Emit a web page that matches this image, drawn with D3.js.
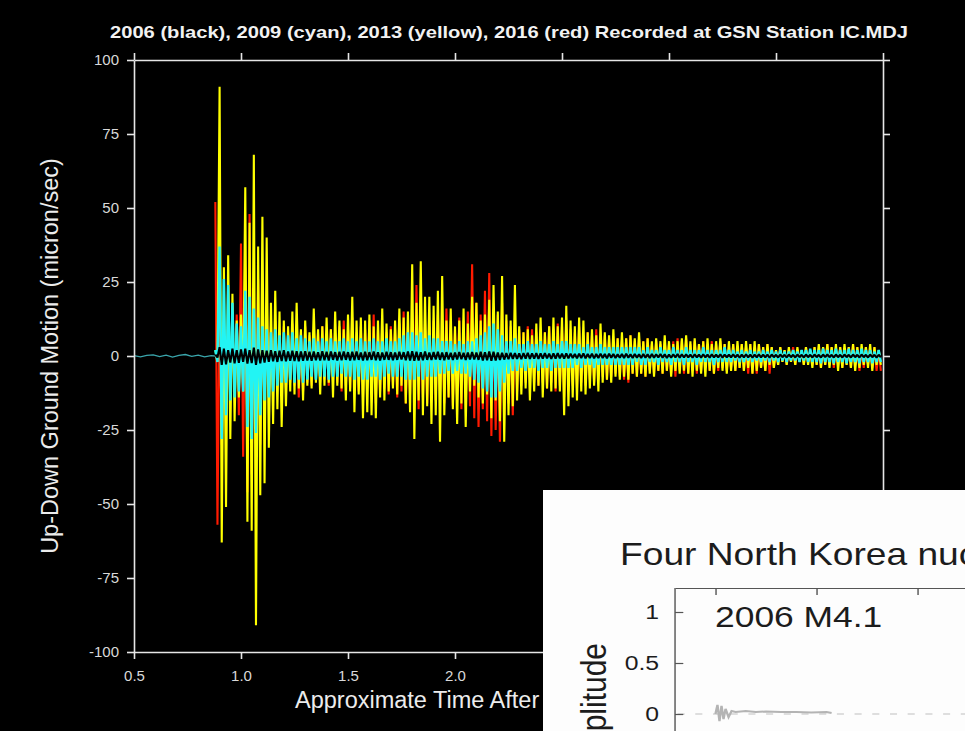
<!DOCTYPE html>
<html>
<head>
<meta charset="utf-8">
<script src="https://cdn.jsdelivr.net/npm/d3@7"></script>
<style>
  html, body { margin: 0; padding: 0; background: #000; overflow: hidden; }
  svg { display: block; }
</style>
</head>
<body>
<svg id="chart" width="965" height="731"></svg>
<script>
// Vertical ground velocity at IC.MDJ, micron/sec.
// Each trace is stored as the peak (max) and trough (min) reached in
// consecutive 0.02-minute windows starting at 0.88 minutes.
const traceStart = 0.88;
const traceStep = 0.02;

const yellowMax = [
  2, 91, 30, 34, 21, 12, 14, 57, 45, 68,
  37, 47, 40, 18, 22, 15, 12, 10, 15, 18,
  9, 12, 8, 16, 9, 10, 13, 9, 15, 12,
  9, 14, 20, 12, 13, 12, 14, 10, 12, 16,
  11, 9, 12, 16, 13, 15, 31, 18, 32, 20,
  20, 17, 22, 27, 12, 16, 10, 12, 16, 11,
  20, 18, 12, 14, 19, 24, 15, 27, 14, 12,
  24, 10, 8, 9, 7, 11, 13, 8, 10, 13,
  10, 13, 17, 12, 10, 13, 12, 8, 9, 7,
  11, 8, 7, 9, 6, 8, 6, 7, 6, 8,
  5, 6, 5, 6, 5, 7, 5, 4, 5, 6,
  7, 5, 6, 4, 5, 6, 4, 5, 6, 4,
  5, 4, 5, 4, 5, 4, 5, 4, 3, 4,
  3, 2, 3, 2, 3, 2, 3, 2, 3, 2,
  3, 4, 3, 4, 3, 4, 3, 4, 3, 4,
  3, 4, 3, 4, 3, 2
];
const yellowMin = [
  -2, -63, -51, -28, -22, -14, -12, -56, -59, -91,
  -47, -43, -31, -23, -18, -24, -17, -12, -13, -11,
  -15, -10, -11, -9, -13, -10, -9, -14, -10, -11,
  -15, -12, -19, -13, -21, -19, -20, -21, -14, -15,
  -12, -11, -13, -10, -16, -19, -28, -15, -20, -17,
  -23, -20, -29, -20, -14, -18, -23, -16, -24, -12,
  -10, -14, -16, -13, -21, -15, -22, -29, -20, -17,
  -15, -13, -11, -15, -12, -10, -14, -11, -12, -11,
  -12, -20, -17, -14, -15, -12, -13, -11, -10, -12,
  -9, -8, -9, -7, -8, -7, -8, -6, -7, -6,
  -7, -6, -7, -5, -6, -5, -7, -5, -6, -5,
  -6, -7, -5, -6, -7, -5, -6, -4, -5, -6,
  -5, -5, -4, -5, -4, -6, -5, -4, -5, -3,
  -4, -3, -2, -3, -2, -3, -2, -3, -3, -4,
  -3, -4, -3, -4, -3, -5, -4, -3, -4, -5,
  -4, -3, -4, -5, -3, -3
];

const redMax = [
  52, 20, 15, 12, 10, 14, 38, 30, 48, 20,
  26, 15, 18, 10, 12, 9, 10, 8, 11, 9,
  8, 10, 7, 9, 8, 10, 7, 9, 8, 10,
  12, 9, 13, 8, 10, 9, 12, 14, 9, 10,
  8, 10, 9, 11, 15, 10, 12, 24, 13, 11,
  10, 12, 14, 10, 16, 12, 9, 13, 12, 15,
  31, 18, 14, 22, 28, 16, 14, 18, 12, 10,
  11, 9, 8, 10, 9, 8, 9, 8, 10, 9,
  11, 10, 12, 9, 8, 10, 7, 8, 7, 9,
  6, 7, 6, 5, 6, 5, 6, 7, 5, 6,
  5, 6, 4, 5, 4, 5, 4, 5, 6, 5,
  6, 4, 5, 4, 5, 4, 5, 4, 5, 4,
  3, 4, 3, 4, 3, 4, 3, 4, 3, 4,
  3, 2, 3, 2, 2, 3, 2, 2, 3, 2,
  3, 2, 3, 4, 3, 2, 3, 2, 3, 4,
  3, 2, 3, 2, 3, 2
];
const redMin = [
  -57, -30, -20, -15, -12, -20, -34, -46, -40, -25,
  -30, -18, -14, -12, -10, -12, -11, -9, -10, -14,
  -12, -9, -10, -8, -9, -8, -10, -8, -9, -12,
  -10, -11, -9, -12, -14, -11, -13, -16, -12, -11,
  -13, -10, -14, -12, -16, -13, -15, -18, -14, -16,
  -13, -15, -12, -16, -14, -17, -15, -18, -14, -17,
  -21, -24, -18, -22, -27, -25, -29, -20, -16, -20,
  -12, -10, -9, -8, -9, -10, -9, -11, -9, -12,
  -10, -14, -12, -10, -11, -9, -10, -8, -9, -8,
  -7, -8, -7, -6, -7, -8, -9, -6, -7, -6,
  -7, -5, -6, -5, -6, -5, -6, -7, -5, -6,
  -6, -5, -6, -5, -4, -5, -6, -5, -4, -5,
  -4, -5, -4, -5, -6, -6, -6, -4, -5, -6,
  -4, -3, -2, -3, -2, -3, -2, -3, -2, -3,
  -3, -4, -3, -3, -4, -3, -4, -3, -4, -3,
  -5, -4, -3, -4, -5, -5
];

const cyanMax = [
  2, 37, 26, 24, 18, 11, 10, 22, 20, 16,
  13, 10, 9, 8, 9, 7, 8, 7, 8, 6,
  7, 6, 5, 6, 5, 6, 5, 6, 5, 5,
  6, 5, 6, 5, 6, 5, 5, 6, 5, 5,
  6, 5, 5, 6, 7, 8, 8, 7, 8, 6,
  7, 6, 6, 5, 5, 5, 4, 5, 4, 5,
  5, 6, 7, 8, 10, 11, 9, 7, 5, 5,
  6, 4, 4, 5, 4, 4, 5, 4, 4, 5,
  4, 5, 5, 4, 4, 4, 3, 4, 3, 3,
  4, 3, 3, 3, 3, 3, 3, 3, 3, 3,
  2, 3, 2, 2, 3, 2, 2, 3, 2, 2,
  3, 2, 2, 2, 3, 2, 2, 2, 2, 3,
  2, 2, 1.5, 2, 1.5, 2, 1.5, 1.5, 2, 1.5,
  2, 1.5, 2, 1.5, 1.5, 2, 1.5, 2, 2, 2.5,
  2, 2, 2.5, 2, 2, 2.5, 2, 2, 2.5, 2,
  2, 2.5, 2, 2, 1.5, 2
];
const cyanMin = [
  -2, -28, -20, -15, -14, -12, -12, -24, -28, -26,
  -20, -15, -14, -12, -10, -9, -9, -8, -9, -8,
  -9, -8, -7, -8, -7, -7, -8, -7, -7, -6,
  -7, -7, -8, -7, -8, -8, -7, -7, -8, -7,
  -6, -7, -7, -7, -8, -8, -8, -7, -8, -7,
  -7, -7, -6, -6, -5, -6, -5, -6, -6, -7,
  -8, -9, -11, -12, -14, -14, -12, -9, -6, -5,
  -5, -4, -5, -4, -4, -5, -4, -4, -5, -4,
  -4, -4, -4, -4, -3, -4, -3, -3, -4, -3,
  -3, -3, -3, -3, -3, -3, -3, -3, -2, -3,
  -3, -2, -2, -3, -2, -2, -3, -2, -2, -3,
  -2, -2, -3, -2, -2, -2, -3, -2, -2, -2,
  -2, -1.5, -2, -2, -1.5, -2, -1.5, -2, -1.5, -2,
  -1.5, -2, -1.5, -2, -1.5, -1.5, -2, -1.5, -2, -2,
  -2, -2.5, -2, -2, -2.5, -2, -2, -2.5, -2, -2,
  -2.5, -2, -2, -2.5, -2, -2
];

const blackMax = [
  0.5, 3, 2.5, 2, 2.5, 2, 2.2, 2.5, 2, 2.8,
  2.2, 2, 1.8, 2, 1.6, 1.8, 2, 1.5, 1.8, 1.6,
  1.5, 1.6, 1.4, 1.5, 1.3, 1.6, 1.4, 1.5, 1.3, 1.4,
  1.5, 1.3, 1.4, 1.5, 1.2, 1.4, 1.3, 1.5, 1.3, 1.2,
  1.4, 1.3, 1.2, 1.4, 1.3, 1.5, 1.6, 1.4, 1.3, 1.5,
  1.2, 1.3, 1.4, 1.2, 1.3, 1.1, 1.2, 1.3, 1.1, 1.2,
  1.3, 1.2, 1.4, 1.3, 1.5, 1.4, 1.2, 1.1, 1, 1.1,
  1, 0.9, 1, 1.1, 0.9, 1, 0.9, 1, 0.8, 0.9,
  1, 0.8, 0.9, 0.8, 0.7, 0.8, 0.9, 0.7, 0.8, 0.7,
  0.8, 0.7, 0.8, 0.7, 0.6, 0.7, 0.8, 0.6, 0.7, 0.6,
  0.7, 0.6, 0.7, 0.6, 0.7, 0.6, 0.5, 0.6, 0.7, 0.6,
  0.6, 0.5, 0.6, 0.5, 0.6, 0.5, 0.6, 0.5, 0.6, 0.5,
  0.5, 0.6, 0.5, 0.5, 0.6, 0.5, 0.5, 0.6, 0.5, 0.5,
  0.5, 0.4, 0.5, 0.4, 0.5, 0.4, 0.5, 0.4, 0.5, 0.4,
  0.5, 0.4, 0.5, 0.5, 0.4, 0.5, 0.4, 0.5, 0.4, 0.5,
  0.4, 0.5, 0.4, 0.5, 0.4, 0.4
];
const blackMin = [
  -0.5, -3, -2.8, -2.2, -2.5, -2.3, -2, -2.6, -2.4, -3,
  -2.5, -2.2, -2, -1.8, -2, -1.7, -1.8, -1.6, -1.7, -1.8,
  -1.6, -1.5, -1.6, -1.4, -1.5, -1.4, -1.5, -1.3, -1.5, -1.4,
  -1.3, -1.5, -1.4, -1.3, -1.5, -1.4, -1.3, -1.4, -1.5, -1.3,
  -1.3, -1.4, -1.3, -1.2, -1.4, -1.5, -1.6, -1.5, -1.4, -1.3,
  -1.3, -1.2, -1.3, -1.4, -1.2, -1.3, -1.2, -1.1, -1.3, -1.2,
  -1.2, -1.3, -1.5, -1.4, -1.6, -1.5, -1.3, -1.2, -1.1, -1,
  -1, -1.1, -0.9, -1, -0.9, -1, -0.9, -0.8, -1, -0.9,
  -0.8, -0.9, -0.8, -0.7, -0.8, -0.7, -0.8, -0.7, -0.8, -0.7,
  -0.7, -0.8, -0.6, -0.7, -0.6, -0.7, -0.6, -0.7, -0.6, -0.7,
  -0.6, -0.7, -0.6, -0.5, -0.6, -0.7, -0.6, -0.5, -0.6, -0.5,
  -0.5, -0.6, -0.5, -0.6, -0.5, -0.6, -0.5, -0.5, -0.6, -0.5,
  -0.5, -0.5, -0.6, -0.5, -0.5, -0.6, -0.5, -0.5, -0.5, -0.6,
  -0.4, -0.5, -0.4, -0.5, -0.4, -0.5, -0.4, -0.5, -0.4, -0.5,
  -0.4, -0.5, -0.4, -0.4, -0.5, -0.4, -0.5, -0.4, -0.5, -0.4,
  -0.5, -0.4, -0.5, -0.4, -0.5, -0.4
];

// Quiet background noise before the first arrival (2009 record)
const preTime = [0.50, 0.53, 0.56, 0.59, 0.62, 0.65, 0.68, 0.71, 0.74, 0.77, 0.80, 0.83, 0.86, 0.88];
const preCyan = [0.1, -0.3, 0.2, 0.4, -0.2, 0.3, -0.4, 0.2, 0.5, -0.1, 0.3, -0.3, 0.1, 0];

// Axis ticks
const xTicks = [0.5, 1.0, 1.5, 2.0, 2.5, 3.0, 3.5, 4.0];
const yTicks = [-100, -75, -50, -25, 0, 25, 50, 75, 100];

// Small normalized 2006 panel
const panelTicksY = [0, 0.5, 1];
const panelTicksX = [0, 20, 40];
const panelTime = [0, 0.4, 0.8, 1.2, 1.6, 2.0, 2.6, 3.2, 4, 6, 8, 10, 13, 16, 19, 22, 23];
const panelAmp = [0, 0.09, -0.07, 0.08, -0.05, 0.05, -0.03, 0.03, 0.02, 0.03, 0.02, 0.025, 0.02, 0.02, 0.015, 0.02, 0.01];

const traces = [
  { name: "2016", color: "#ff1a00", width: 2.1, max: redMax, min: redMin },
  { name: "2013", color: "#ffff00", width: 2.1, max: yellowMax, min: yellowMin },
  { name: "2009", color: "#22f4f4", width: 2.4, max: cyanMax, min: cyanMin },
  { name: "2006", color: "#000000", width: 2.1, max: blackMax, min: blackMin }
];

const W = 965, H = 731;
const FONT = "'Liberation Sans', Arial, Helvetica, sans-serif";
const AXIS = "#e6e6e6";
const svg = d3.select("#chart");
svg.append("rect").attr("width", W).attr("height", H).attr("fill", "#000");

const plot = { left: 134, right: 883, top: 60, bottom: 652 };
const x = d3.scaleLinear().domain([0.5, 4.0]).range([plot.left, plot.right]);
const y = d3.scaleLinear().domain([-100, 100]).range([plot.bottom, plot.top]);

// Expand each window into its peak then trough so the trace reads as a dense seismogram
function zigzag(maxs, mins) {
  const pts = [];
  maxs.forEach((v, i) => {
    const t = traceStart + i * traceStep;
    pts.push([t, v]);
    pts.push([t + traceStep / 2, mins[i]]);
  });
  return pts;
}
const line = d3.line().x(d => x(d[0])).y(d => y(d[1]));

const traceLayer = svg.append("g");
traceLayer.append("path")
  .datum(preTime.map((t, i) => [t, preCyan[i]]))
  .attr("d", line)
  .attr("fill", "none")
  .attr("stroke", "#3aa6ac")
  .attr("stroke-width", 1.3);

traceLayer.selectAll("path.trace")
  .data(traces)
  .join("path")
  .attr("class", "trace")
  .attr("d", d => line(zigzag(d.max, d.min)))
  .attr("fill", "none")
  .attr("stroke", d => d.color)
  .attr("stroke-width", d => d.width)
  .attr("stroke-linejoin", "bevel");

function styleAxis(g, labels) {
  g.attr("font-family", FONT).attr("font-size", 15);
  g.selectAll(".domain").attr("stroke", AXIS).attr("stroke-width", 1.6);
  g.selectAll(".tick line").attr("stroke", AXIS).attr("stroke-width", 1.6);
  if (labels) g.selectAll(".tick text").attr("fill", "#d9d9d9");
}

svg.append("g")
  .attr("transform", `translate(${plot.left},0)`)
  .call(d3.axisLeft(y).tickValues(yTicks).tickSizeInner(7).tickSizeOuter(0)
    .tickPadding(8).tickFormat(d => String(d)))
  .call(g => styleAxis(g, true));

svg.append("g")
  .attr("transform", `translate(${plot.right},0)`)
  .call(d3.axisRight(y).tickValues(yTicks).tickSizeInner(7).tickSizeOuter(0).tickFormat(""))
  .call(g => styleAxis(g, false));

svg.append("g")
  .attr("transform", `translate(0,${plot.top})`)
  .call(d3.axisTop(x).tickValues(xTicks).tickSizeInner(7).tickSizeOuter(0).tickFormat(""))
  .call(g => styleAxis(g, false));

svg.append("g")
  .attr("transform", `translate(0,${plot.bottom})`)
  .call(d3.axisBottom(x).tickValues(xTicks).tickSizeInner(7).tickSizeOuter(0)
    .tickPadding(11).tickFormat(d => d.toFixed(1)))
  .call(g => styleAxis(g, true));

// Titles
svg.append("text")
  .attr("x", 509).attr("y", 38)
  .attr("text-anchor", "middle")
  .attr("font-family", "'Liberation Sans Narrow', 'Arial Narrow', " + FONT)
  .attr("font-weight", "bold")
  .attr("font-size", 17)
  .attr("textLength", 798)
  .attr("lengthAdjust", "spacingAndGlyphs")
  .attr("fill", "#f2f2f2")
  .text("2006 (black), 2009 (cyan), 2013 (yellow), 2016 (red) Recorded at GSN Station IC.MDJ");

svg.append("text")
  .attr("transform", "translate(58,356) rotate(-90)")
  .attr("text-anchor", "middle")
  .attr("font-family", FONT)
  .attr("font-size", 23.5)
  .attr("fill", "#ececec")
  .text("Up-Down Ground Motion (micron/sec)");

svg.append("text")
  .attr("x", 295).attr("y", 708)
  .attr("font-family", FONT)
  .attr("font-size", 23.5)
  .attr("fill", "#ececec")
  .text("Approximate Time After Explosion (minutes)");

// Overlaid panel: normalized 2006 record
const panel = svg.append("g");
panel.append("rect")
  .attr("x", 543).attr("y", 490).attr("width", W - 543).attr("height", H - 490)
  .attr("fill", "#fdfdfd");

const inner = panel.append("g").attr("transform", "translate(543,490) scale(1.18,1)");
const px = d3.scaleLinear().domain([-8, 50]).range([111.9, 111.9 + 58 * 4.28]);
const py = d3.scaleLinear().domain([0, 1]).range([224, 122]);
const INK = "#1c1c1c";

inner.append("text")
  .attr("x", 65.3).attr("y", 75)
  .attr("font-family", FONT).attr("font-size", 31.5).attr("fill", INK)
  .text("Four North Korea nuclear tests");

// zero reference line and the trace
inner.append("line")
  .attr("x1", px(-7.5)).attr("x2", px(50))
  .attr("y1", py(0)).attr("y2", py(0))
  .attr("stroke", "#d4d4d4").attr("stroke-width", 1.5)
  .attr("stroke-dasharray", "6,9");
inner.append("path")
  .datum(panelTime.map((t, i) => [t, panelAmp[i]]))
  .attr("d", d3.line().x(d => px(d[0])).y(d => py(d[1])))
  .attr("fill", "none").attr("stroke", "#b4b4b4").attr("stroke-width", 2);

inner.append("g")
  .attr("transform", "translate(0,98)")
  .call(d3.axisTop(px).tickValues(panelTicksX).tickSizeInner(-7).tickSizeOuter(0).tickFormat(""))
  .call(g => {
    g.selectAll(".domain").attr("stroke", "#555").attr("stroke-width", 1.2);
    g.selectAll(".tick line").attr("stroke", "#555").attr("stroke-width", 1.2);
  });

inner.append("g")
  .attr("transform", `translate(${px(-8)},0)`)
  .call(d3.axisLeft(py).tickValues(panelTicksY).tickSizeInner(-7).tickSizeOuter(0)
    .tickPadding(13.5).tickFormat(d => String(d)))
  .call(g => {
    g.select(".domain").remove();
    g.attr("font-family", FONT).attr("font-size", 21);
    g.selectAll(".tick line").attr("stroke", "#555").attr("stroke-width", 1.2);
    g.selectAll(".tick text").attr("fill", INK);
    g.append("line").attr("x1", 0).attr("x2", 0).attr("y1", 98).attr("y2", H - 490)
      .attr("stroke", "#555").attr("stroke-width", 1.2);
  });

inner.append("text")
  .attr("x", 145.8).attr("y", 137)
  .attr("font-family", FONT).attr("font-size", 30).attr("fill", INK)
  .text("2006 M4.1");

inner.append("text")
  .attr("transform", "translate(53.4,153) rotate(-90)")
  .attr("text-anchor", "end")
  .attr("font-family", FONT).attr("font-size", 30).attr("fill", INK)
  .text("Amplitude");
</script>
</body>
</html>
